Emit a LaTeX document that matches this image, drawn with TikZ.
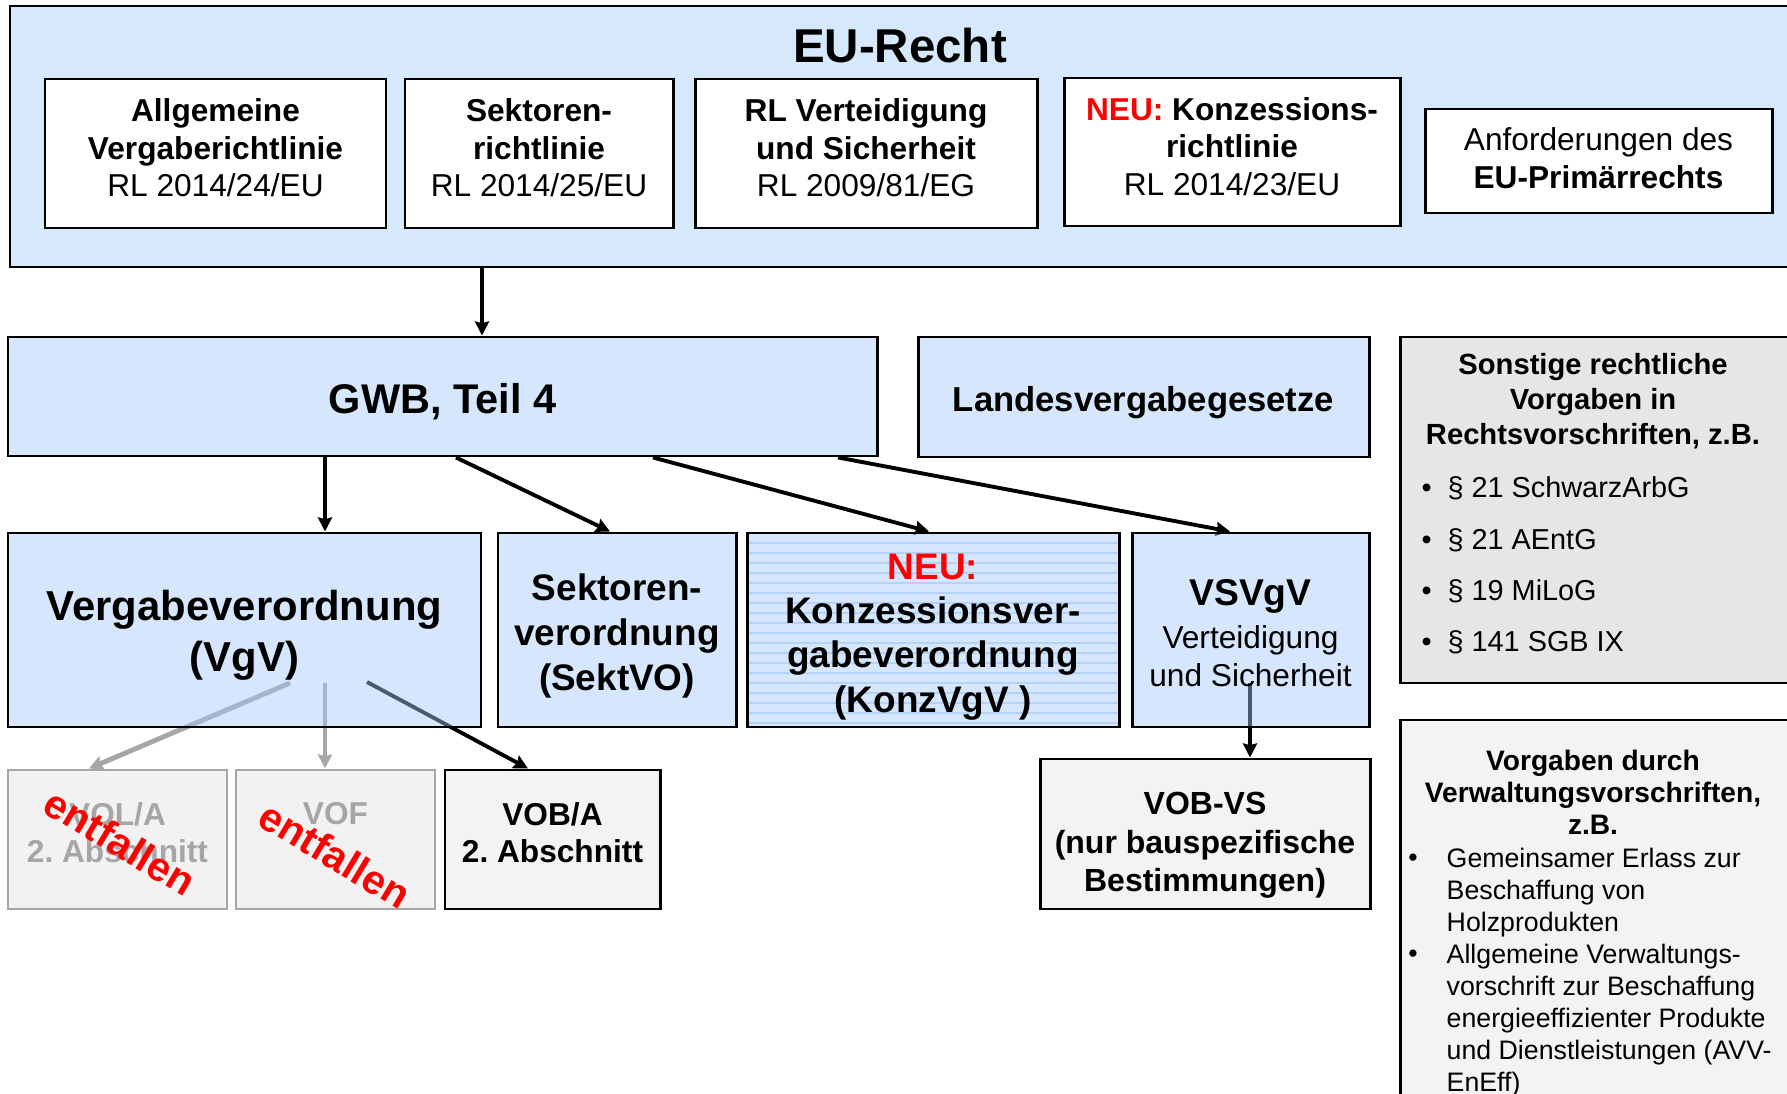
\documentclass[tikz,border=0pt]{standalone}
\usepackage{fontspec}
\setmainfont{Liberation Sans}
\usepackage{xcolor}
\usepackage{tikz}
\usetikzlibrary{calc, arrows.meta}
\frenchspacing

\pgfdeclarelayer{bg}
\pgfsetlayers{bg,main}

\definecolor{vgblue}{RGB}{164,200,249}
\definecolor{eublue}{RGB}{214,232,252}
\definecolor{konzline}{RGB}{180,211,246}
\definecolor{sonstgrey}{RGB}{230,230,230}
\definecolor{vwgrey}{RGB}{242,243,245}
\definecolor{offgrey}{RGB}{166,166,166}
\definecolor{offfill}{RGB}{242,242,242}
\definecolor{neured}{RGB}{255,0,0}

\newcommand{\fsz}[2]{\fontsize{#1}{#2}\selectfont}
% unsichtbare Stuetzen, um den Text im Kasten etwas zu verschieben
\newcommand{\topstrut}[1]{\rule{0pt}{#1}}
\newcommand{\botstrut}[1]{\rule[-#1]{0pt}{#1}}

\tikzset{
  area/.style n args={4}{minimum width={(#3-#1)*0.01cm}, minimum height={(#4-#2)*0.01cm},
    anchor=center, at={({(#1+#3)/2},{(#2+#4)/2})}},
  box/.style={draw=black, line width=0.85pt, inner sep=0pt, align=center},
  bluebox/.style={box, fill=vgblue, fill opacity=0.45, text opacity=1},
  whitebox/.style={box, fill=white},
  greybox/.style={box, fill=sonstgrey},
  offbox/.style={box, draw=offgrey, fill=offfill, text=offgrey},
  lightbox/.style={box, fill=vwgrey},
  txt/.style={inner sep=0pt},
  arr/.style={->, line width=1.1pt},
  offarr/.style={->, draw=offgrey},
  entf/.style={text=neured, font=\fsz{11.6}{14}\bfseries, rotate=-31},
}

\begin{document}
\begin{tikzpicture}[x=0.01cm, y=-0.01cm, >={Stealth[length=4pt,width=4pt,inset=0.5pt]}]
    \useasboundingbox (0,0) rectangle (1787,1094);

    % EU-Recht
    \node[box, fill=eublue, area={10}{6}{1800}{267}] (eu) {};
    \node[txt, font=\fsz{13.5}{16}\bfseries] (eutitle) at (900,46) {EU-Recht};
    \node[whitebox, area={45}{79}{386}{228}, font=\fsz{9}{10.7}\bfseries] (agrl)
        {Allgemeine\\Vergaberichtlinie\\{\mdseries RL 2014/24/EU}\botstrut{3.2pt}};
    \node[whitebox, area={405}{79}{673}{228}, font=\fsz{9}{10.7}\bfseries] (sektrl)
        {Sektoren-\\richtlinie\\{\mdseries RL 2014/25/EU}\botstrut{3.2pt}};
    \node[whitebox, area={695}{79}{1037}{228}, font=\fsz{9}{10.7}\bfseries] (vsrl)
        {RL Verteidigung\\und Sicherheit\\{\mdseries RL 2009/81/EG}\botstrut{3.2pt}};
    \node[whitebox, area={1064}{78}{1400}{226}, font=\fsz{9}{10.7}\bfseries] (konzrl)
        {\textcolor{neured}{NEU:} Konzessions-\\richtlinie\\{\mdseries RL 2014/23/EU}\botstrut{3.2pt}};
    \node[whitebox, area={1425}{109}{1772}{213}, font=\fsz{9}{10.9}] (primaer)
        {Anforderungen des\\\textbf{EU-Primärrechts}\botstrut{1.7pt}};

    % Gesetze
    \node[bluebox, area={8}{337}{877}{456}, font=\fsz{11.8}{14}\bfseries] (gwb) {\topstrut{11.4pt}GWB, Teil 4};
    \node[bluebox, area={918}{337}{1369}{457}, font=\fsz{9.85}{12}\bfseries] (lvg) {\topstrut{10.6pt}Landesvergabegesetze};

    % Sonstige Vorgaben
    \node[greybox, area={1400}{337}{1800}{683}] (sonst) {};
    \node[txt, font=\fsz{8.3}{10}\bfseries, align=center] (sonsttitle) at (1593,401)
        {Sonstige rechtliche\\Vorgaben in\\Rechtsvorschriften, z.B.};
    \foreach \law [count=\i] in {§ 21 SchwarzArbG, § 21 AEntG, § 19 MiLoG, § 141 SGB IX}
        \node[txt, font=\fsz{8.2}{10}, anchor=base west] (sonst\i) at (1421,{447+51*\i}) {\textbullet\hspace{4.5pt}\law};

    % Verordnungen
    \node[bluebox, area={8}{533}{481}{727}, font=\fsz{11.9}{14.6}\bfseries] (vgv)
        {\topstrut{11.8pt}Vergabeverordnung\\(VgV)};
    \node[bluebox, area={498}{533}{736}{727}, font=\fsz{10.5}{12.8}\bfseries] (sektvo)
        {\topstrut{11.1pt}Sektoren-\\verordnung\\(SektVO)};
    \node[bluebox, area={747}{533}{1119}{727}, font=\fsz{10.5}{12.6}\bfseries,
        path picture={\foreach \k in {1,...,19}
            \draw[konzline, line width=0.5pt] ($(path picture bounding box.north west)+(0,\k*10)$) -- ++(400,0);}] (konzvgv)
        {\topstrut{11.2pt}\textcolor{neured}{NEU:}\\Konzessionsver-\\gabeverordnung\\(KonzVgV )};
    \node[bluebox, area={1132}{533}{1369}{727}, font=\fsz{9}{10.7}] (vsvgv)
        {\topstrut{9.2pt}{\fsz{10.6}{12.2}\bfseries VSVgV}\\[1.4pt]Verteidigung\\und Sicherheit};

    % Vergabeordnungen
    \node[offbox, area={8}{770}{227}{909}, font=\fsz{9}{10.6}\bfseries] (vola) {VOL/A\\2. Abschnitt\botstrut{4pt}};
    \node[offbox, area={236}{770}{435}{909}, font=\fsz{9}{10.6}\bfseries] (vof) {VOF\\\phantom{2. Abschnitt}\botstrut{4pt}};
    \node[lightbox, area={445}{770}{660}{909}, font=\fsz{9}{10.6}\bfseries] (voba) {VOB/A\\2. Abschnitt\botstrut{4pt}};
    \node[lightbox, area={1040}{759}{1370}{909}, font=\fsz{9.1}{11}\bfseries] (vobvs)
        {\topstrut{12.9pt}VOB-VS\\(nur bauspezifische\\Bestimmungen)};
    \node[entf] (entf1) at (120,842) {entfallen};
    \node[entf] (entf2) at (335,855) {entfallen};

    % Verwaltungsvorschriften
    \node[lightbox, area={1400}{720}{1800}{1120}] (vwv) {};
    \node[txt, font=\fsz{8}{9.1}\bfseries, align=center] (vwvtitle) at (1593,792)
        {Vorgaben durch\\Verwaltungsvorschriften,\\z.B.};
    \node[txt, font=\fsz{7.6}{9.1}, anchor=base] (vwvb1) at (1413,866) {\textbullet};
    \node[txt, font=\fsz{7.6}{9.1}, anchor=north west, align=left] (vwv1) at (1446,847)
        {Gemeinsamer Erlass zur\\Beschaffung von\\Holzprodukten};
    \node[txt, font=\fsz{7.6}{9.1}, anchor=base] (vwvb2) at (1413,962) {\textbullet};
    \node[txt, font=\fsz{7.6}{9.1}, anchor=north west, align=left] (vwv2) at (1446,943)
        {Allgemeine Verwaltungs-\\vorschrift zur Beschaffung\\energieeffizienter Produkte\\und Dienstleistungen (AVV-\\EnEff)};

    % Pfeile (unter den Kaesten)
    \coordinate (vgvout1) at (290,683);
    \coordinate (vgvout2) at (325,683);
    \coordinate (vgvout3) at (367,682);
    \coordinate (vsout) at (1250,683);
    \begin{pgfonlayer}{bg}
        \draw[arr, line width=1pt] (eu.south -| 482,0) -- (gwb.north -| 482,0);
        \draw[arr, line width=1pt] (gwb.south -| 325,0) -- (vgv.north -| 325,0);
        \draw[arr] (gwb.south -| 456,0) -- (sektvo.north -| 610,0);
        \draw[arr] (gwb.south -| 653,0) -- (konzvgv.north -| 929,0);
        \draw[arr] (gwb.south -| 838,0) -- (vsvgv.north -| 1230,0);
        \draw[arr, offarr, line width=1.4pt] (vgvout1) -- (vola.north -| 89,0);
        \draw[arr, offarr, line width=0.9pt] (vgvout2) -- (vof.north -| 325,0);
        \draw[arr] (vgvout3) -- (voba.north -| 528,0);
        \draw[arr] (vsout) -- (vobvs.north -| 1250,0);
    \end{pgfonlayer}
\end{tikzpicture}
\end{document}
